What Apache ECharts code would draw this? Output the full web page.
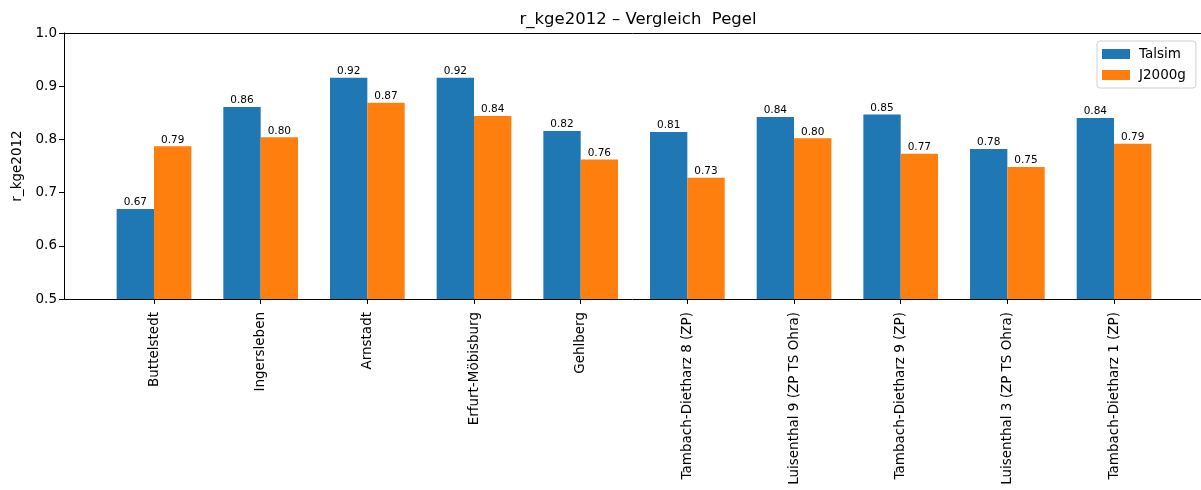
<!DOCTYPE html>
<html>
<head>
<meta charset="utf-8">
<script src="https://cdn.jsdelivr.net/npm/echarts@6/dist/echarts.min.js"></script>
<style>html,body{margin:0;padding:0;background:#fff}#c{width:1201px;height:490px}</style>
</head>
<body>
<div id="c"></div>
<script>
const categories = ["Buttelstedt","Ingersleben","Arnstadt","Erfurt-Möbisburg","Gehlberg","Tambach-Dietharz 8 (ZP)","Luisenthal 9 (ZP TS Ohra)","Tambach-Dietharz 9 (ZP)","Luisenthal 3 (ZP TS Ohra)","Tambach-Dietharz 1 (ZP)"];
const talsim = [0.669, 0.861, 0.916, 0.916, 0.816, 0.814, 0.842, 0.847, 0.782, 0.840];
const j2000g = [0.787, 0.804, 0.869, 0.844, 0.762, 0.728, 0.802, 0.773, 0.748, 0.792];
const seriesNames = ["Talsim","J2000g"];
const yTicks = [0.5, 0.6, 0.7, 0.8, 0.9, 1.0];

const FONT = "DejaVu Sans";
const chart = echarts.init(document.getElementById('c'), null, {renderer:'canvas'});
const frameLeft = 64, frameTop = 33, frameH = 266, frameW = 1137;
const band = 106.67;
const firstTick = 154;
const barsLeft = firstTick - band/2;
const barsW = band * categories.length;

const labelCfg = {
  show: true, position: 'top', distance: 1,
  formatter: p => p.value.toFixed(2),
  fontFamily: FONT, fontSize: 10.5, color: '#000'
};
const spine = {show: true, lineStyle: {color: '#000', width: 1}};

chart.setOption({
  animation: false,
  backgroundColor: '#fff',
  title: {
    text: 'r_kge2012 – Vergleich  Pegel',
    left: 633, top: 6, textAlign: 'center',
    textStyle: {fontFamily: FONT, fontSize: 16.5, fontWeight: 'normal', color: '#000'}
  },
  legend: {
    data: seriesNames,
    orient: 'vertical',
    left: 1097, top: 41,
    itemWidth: 28, itemHeight: 10, itemGap: 7,
    padding: [6, 10, 6, 5],
    borderColor: '#d0d0d0', borderWidth: 1, borderRadius: 3,
    icon: 'rect',
    textStyle: {fontFamily: FONT, fontSize: 13.5, color: '#000', padding: [0,0,0,4]}
  },
  grid: [
    {left: barsLeft, top: frameTop, width: barsW, height: frameH},
    {left: frameLeft, top: frameTop, width: frameW, height: frameH}
  ],
  xAxis: [
    {
      type: 'category', gridIndex: 0, data: categories,
      axisLine: {show: false},
      axisTick: {show: true, alignWithLabel: true, length: 5, lineStyle: {color: '#000'}},
      axisLabel: {rotate: 90, interval: 0, margin: 13, fontFamily: FONT, fontSize: 13.5, color: '#000'}
    },
    {type: 'value', gridIndex: 1, min: 0, max: 1, position: 'bottom',
     axisLine: spine, axisTick: {show: false}, axisLabel: {show: false}, splitLine: {show: false}},
    {type: 'value', gridIndex: 1, min: 0, max: 1, position: 'top',
     axisLine: spine, axisTick: {show: false}, axisLabel: {show: false}, splitLine: {show: false}}
  ],
  yAxis: [
    {type: 'value', gridIndex: 0, min: 0.5, max: 1.0, interval: 0.1, show: false},
    {
      type: 'value', gridIndex: 1, min: 0.5, max: 1.0, interval: 0.1,
      axisLine: spine,
      axisTick: {show: true, length: 5, lineStyle: {color: '#000'}},
      splitLine: {show: false},
      axisLabel: {formatter: v => v.toFixed(1), margin: 7, fontFamily: FONT, fontSize: 13.5, color: '#000'},
      name: 'r_kge2012', nameLocation: 'middle', nameGap: 36, nameRotate: 90,
      nameTextStyle: {fontFamily: FONT, fontSize: 13.5, color: '#000'}
    }
  ],
  series: [
    {name: seriesNames[0], type: 'bar', xAxisIndex: 0, yAxisIndex: 0, data: talsim,
     barWidth: band*0.35, barGap: '0%', itemStyle: {color: '#1f77b4'}, label: labelCfg},
    {name: seriesNames[1], type: 'bar', xAxisIndex: 0, yAxisIndex: 0, data: j2000g,
     barWidth: band*0.35, barGap: '0%', itemStyle: {color: '#ff7f0e'}, label: labelCfg}
  ]
});
</script>
</body>
</html>
